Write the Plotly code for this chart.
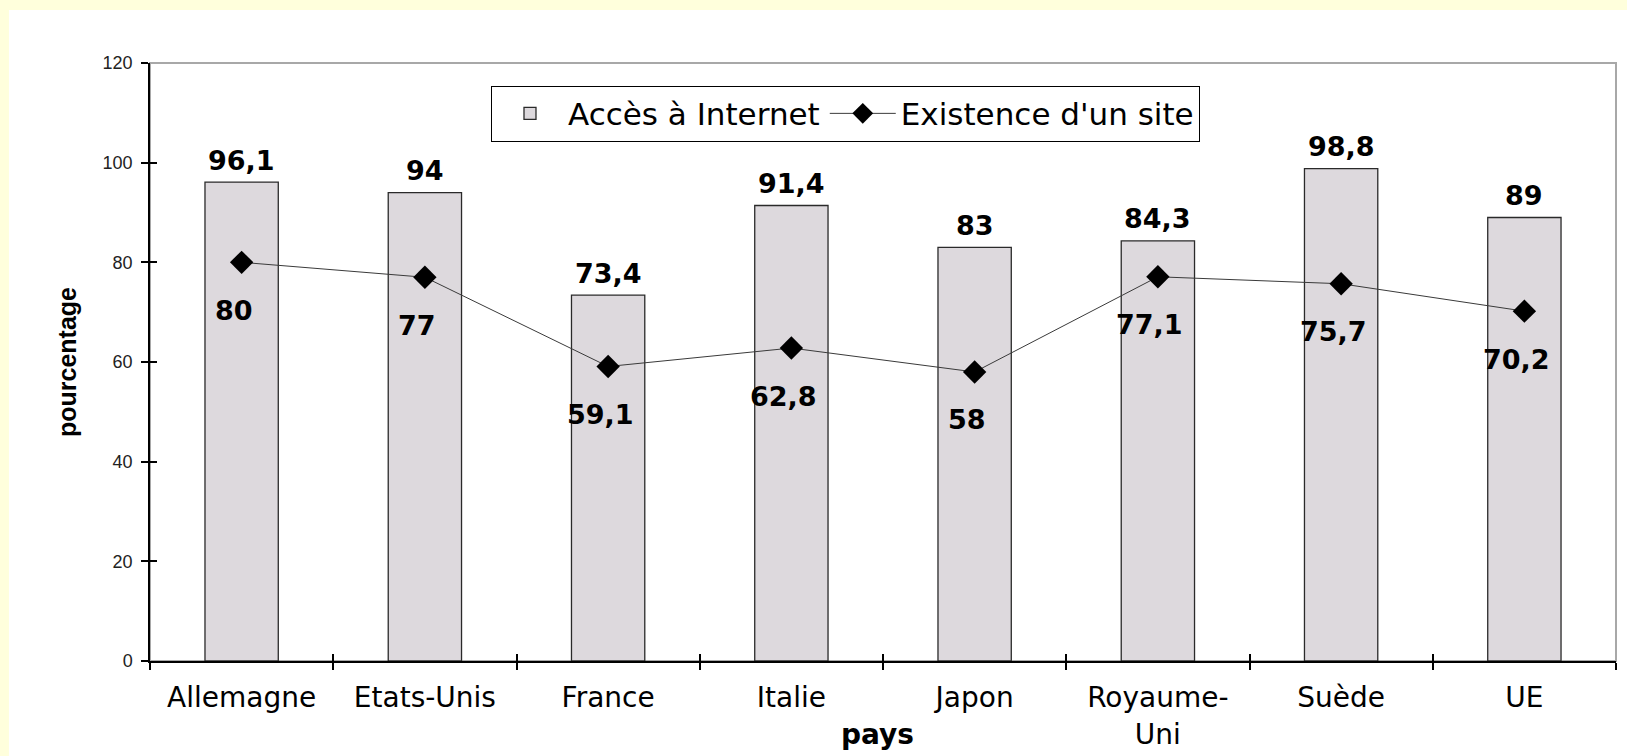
import plotly.graph_objects as go

# Données : accès à Internet et existence d'un site web, par pays (en %)
pays = ["Allemagne", "Etats-Unis", "France", "Italie", "Japon", "Royaume-Uni", "Suède", "UE"]
etiquettes_pays = ["Allemagne", "Etats-Unis", "France", "Italie", "Japon", "Royaume-<br>Uni", "Suède", "UE"]
acces_internet = [96.1, 94, 73.4, 91.4, 83, 84.3, 98.8, 89]
existence_site = [80, 77, 59.1, 62.8, 58, 77.1, 75.7, 70.2]
graduations_y = [0, 20, 40, 60, 80, 100, 120]

FOND_PAGE = "#FFFFDC"
GRIS_BARRE = "#DDD9DD"
POLICE = "DejaVu Sans"


def fr(v):
    """Nombre au format français (virgule décimale)."""
    return f"{v:g}".replace(".", ",")


fig = go.Figure()

fig.add_trace(go.Bar(
    name="Accès à Internet",
    x=pays,
    y=acces_internet,
    width=0.4,
    marker=dict(color=GRIS_BARRE, line=dict(color="#2a2a2a", width=1.3)),
))

fig.add_trace(go.Scatter(
    name="Existence d'un site",
    x=pays,
    y=existence_site,
    mode="lines+markers",
    line=dict(color="#3a3a3a", width=1),
    marker=dict(symbol="diamond", size=18, color="black"),
))

# trace muette portant les axes superposés (graduations intérieures)
fig.add_trace(go.Scatter(
    x=pays, y=existence_site, xaxis="x2", yaxis="y2",
    mode="none", showlegend=False, hoverinfo="skip",
))

annotations = []
# valeurs au-dessus des barres
for p, v in zip(pays, acces_internet):
    annotations.append(dict(
        x=p, y=v, xref="x", yref="y", text=fr(v), showarrow=False,
        yanchor="middle", yshift=22,
        font=dict(family=POLICE, size=27, color="black", weight="bold"),
    ))
# valeurs sous les points de la courbe
for p, v in zip(pays, existence_site):
    annotations.append(dict(
        x=p, y=v, xref="x", yref="y", text=fr(v), showarrow=False,
        yanchor="middle", yshift=-48, xshift=-8,
        font=dict(family=POLICE, size=27, color="black", weight="bold"),
    ))
# titres des axes
annotations.append(dict(
    x=0.496, y=-0.123, xref="paper", yref="paper", text="pays", showarrow=False,
    yanchor="middle", font=dict(family=POLICE, size=28, color="black", weight="bold"),
))
annotations.append(dict(
    x=-0.0566, y=0.5, xref="paper", yref="paper", text="pourcentage", showarrow=False,
    textangle=-90, xanchor="center", yanchor="middle",
    font=dict(family="Liberation Sans", size=25, color="black", weight="bold"),
))

shapes = [
    # cadre blanc du graphique sur le fond de page
    dict(type="rect", xref="paper", yref="paper", x0=-0.0962, x1=1.05, y0=-0.3, y1=1.0886,
         fillcolor="white", line=dict(width=0), layer="below"),
    # bordure grise de la zone de tracé
    dict(type="rect", xref="paper", yref="paper", x0=0, x1=1, y0=0, y1=1,
         fillcolor="rgba(0,0,0,0)", line=dict(color="#A8A8A8", width=2), layer="below"),
]

axe_x_commun = dict(
    type="category",
    range=[-0.5, len(pays) - 0.5],
    tickson="boundaries",
    ticklen=7,
    tickcolor="black",
    tickwidth=1.5,
    showgrid=False,
    automargin=False,
)
axe_y_commun = dict(
    range=[0, 120],
    tickmode="array",
    tickvals=graduations_y,
    ticklen=7,
    tickcolor="black",
    tickwidth=1.5,
    showgrid=False,
    zeroline=False,
    automargin=False,
)

fig.update_layout(
    width=1627,
    height=756,
    margin=dict(l=150, r=11, t=63, b=95, autoexpand=False),
    paper_bgcolor=FOND_PAGE,
    plot_bgcolor="white",
    showlegend=True,
    legend=dict(
        orientation="h",
        x=0.2326, y=0.962, xanchor="left", yanchor="top",
        bgcolor="white", bordercolor="black", borderwidth=1,
        font=dict(family=POLICE, size=31, color="black"),
        itemwidth=66,
        tracegroupgap=0,
    ),
    annotations=annotations,
    shapes=shapes,
    xaxis=dict(
        **axe_x_commun,
        tickmode="array",
        tickvals=pays,
        ticktext=etiquettes_pays,
        ticks="outside",
        showline=True,
        linecolor="black",
        linewidth=1.5,
        tickfont=dict(family=POLICE, size=28, color="black"),
        ticklabelstandoff=11,
    ),
    yaxis=dict(
        **axe_y_commun,
        ticktext=[str(t) for t in graduations_y],
        ticks="outside",
        showline=True,
        linecolor="black",
        linewidth=1.5,
        tickfont=dict(family="Liberation Sans", size=18, color="#222222"),
        ticklabelstandoff=5,
    ),
    xaxis2=dict(
        **axe_x_commun,
        overlaying="x",
        anchor="y2",
        ticks="inside",
        showticklabels=False,
        showline=False,
    ),
    yaxis2=dict(
        **axe_y_commun,
        overlaying="y",
        anchor="x2",
        side="left",
        ticks="inside",
        showticklabels=False,
        showline=False,
    ),
)

fig.write_html("out.html")
